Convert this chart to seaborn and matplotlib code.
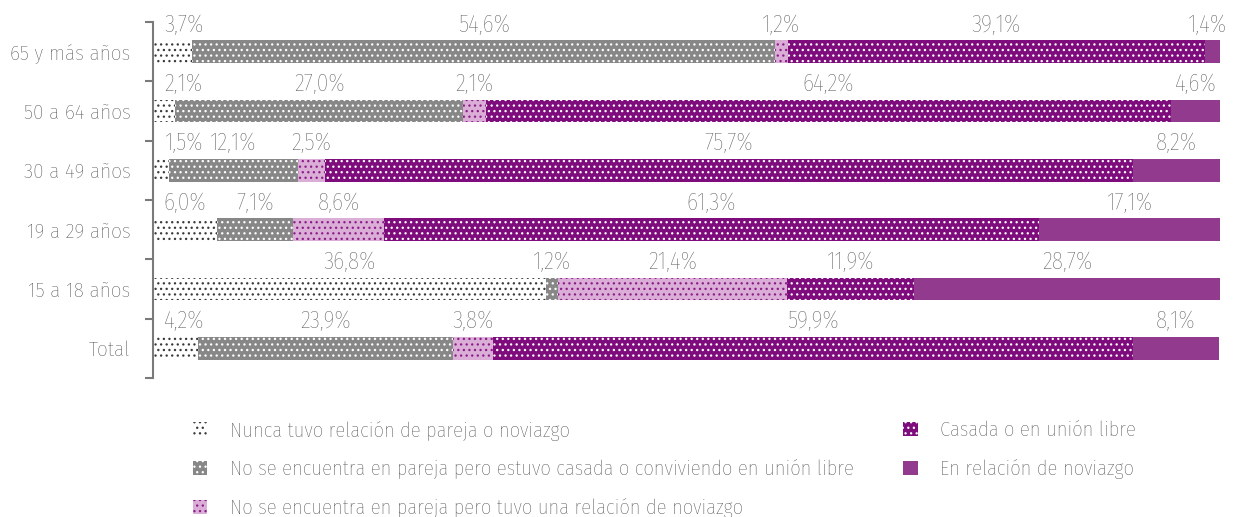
import matplotlib
matplotlib.use('Agg')
import matplotlib.pyplot as plt
import seaborn as sns
import numpy as np
from matplotlib.patches import Patch
from matplotlib.ticker import FixedLocator
from matplotlib import font_manager as fm

categorias = ['65 y más años', '50 a 64 años', '30 a 49 años',
              '19 a 29 años', '15 a 18 años', 'Total']
series = ['Nunca tuvo relación de pareja o noviazgo',
          'No se encuentra en pareja pero estuvo casada o conviviendo en unión libre',
          'No se encuentra en pareja pero tuvo una relación de noviazgo',
          'Casada o en unión libre',
          'En relación de noviazgo']
nunca = [3.7, 2.1, 1.5, 6.0, 36.8, 4.2]
estuvo_casada = [54.6, 27.0, 12.1, 7.1, 1.2, 23.9]
tuvo_noviazgo = [1.2, 2.1, 2.5, 8.6, 21.4, 3.8]
casada = [39.1, 64.2, 75.7, 61.3, 11.9, 59.9]
noviazgo = [1.4, 4.6, 8.2, 17.1, 28.7, 8.1]

# relleno, color de los puntos, trama
estilos = [('#ffffff', '#3a3a3a', '...'),
           ('#878787', '#ffffff', '...'),
           ('#dbaed7', '#8a1c88', '...'),
           ('#7e0c7c', '#ffffff', '...'),
           ('#923a8d', '#923a8d', '')]

sns.set_style('white')
nombres = {f.name for f in fm.fontManager.ttflist}
if 'Fira Sans Condensed' in nombres:
    plt.rcParams['font.family'] = ['Fira Sans Condensed', 'DejaVu Sans']
else:
    plt.rcParams['font.family'] = ['Open Sans', 'DejaVu Sans']
    plt.rcParams['font.stretch'] = 'condensed'
plt.rcParams['font.weight'] = 'light'
plt.rcParams['hatch.linewidth'] = 0.9

valores = np.array([nunca, estuvo_casada, tuvo_noviazgo, casada, noviazgo])
acum = np.cumsum(valores, axis=0)

fig = plt.figure(figsize=(12.33, 5.17), dpi=100)
ax = fig.add_axes([0.124, 0.269, 0.8655, 0.6886])

# barras apiladas: se dibuja de la suma total hacia la primera serie
for k in reversed(range(len(series))):
    cara, punto, trama = estilos[k]
    sns.barplot(x=acum[k], y=categorias, orient='h', color=cara,
                saturation=1, width=0.38, ax=ax, hatch=trama,
                edgecolor=punto, linewidth=0)

ax.set_xlim(0, 100)
ax.set_ylim(len(categorias) - 0.5, -0.5)
ax.set_xlabel('')
ax.set_ylabel('')
ax.set_xticks([])

# etiquetas de porcentaje
for i in range(len(categorias)):
    for k in range(len(series)):
        v = valores[k, i]
        xc = acum[k, i] - v / 2
        xc = min(max(xc, 2.9), 98.8)
        ax.text(xc, i - 0.45, f'{v:.1f}'.replace('.', ',') + '%',
                ha='center', va='center', fontsize=17, color='#595959',
                clip_on=False)

for s in ['top', 'right', 'bottom']:
    ax.spines[s].set_visible(False)
ax.spines['left'].set_color('#7a7a7a')
ax.spines['left'].set_linewidth(1.5)

ax.set_yticks(range(len(categorias)))
ax.set_yticklabels(categorias, fontsize=15.3, color='#404040')
ax.tick_params(axis='y', which='major', length=0, pad=16)
ax.yaxis.set_minor_locator(FixedLocator(np.arange(-0.5, len(categorias), 1)))
ax.tick_params(axis='y', which='minor', length=6, width=1.5,
               color='#7a7a7a', direction='out', left=True)

handles = [Patch(facecolor=c, edgecolor=p, hatch=t, linewidth=0, label=s)
           for (c, p, t), s in zip(estilos, series)]

opciones = dict(loc='upper left', frameon=False, fontsize=14.8,
                labelcolor='#404040', handlelength=0.7, handleheight=0.7,
                handletextpad=1.1, labelspacing=0.92, borderpad=0,
                borderaxespad=0)
fig.legend(handles=handles[:3], bbox_to_anchor=(0.1565, 0.186), **opciones)
fig.legend(handles=handles[3:], bbox_to_anchor=(0.7325, 0.186), **opciones)

plt.savefig('out.png', dpi=100)
